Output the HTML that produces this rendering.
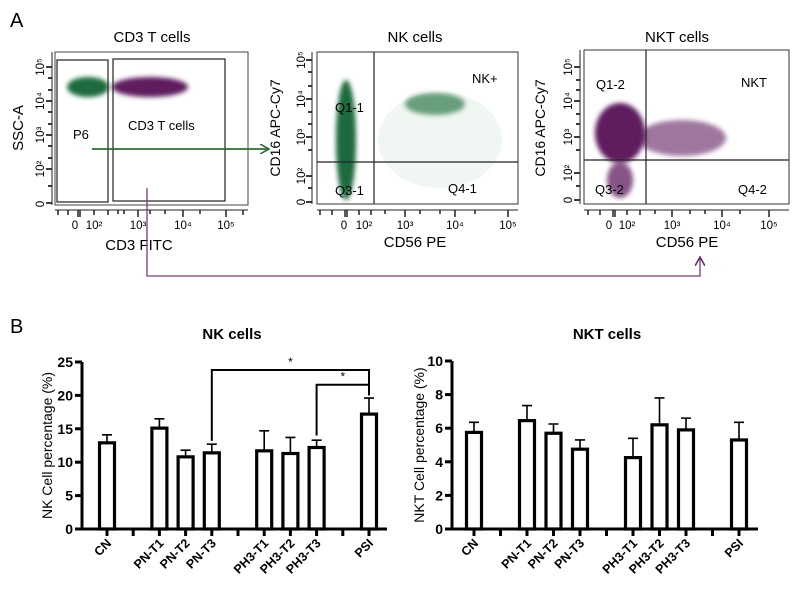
<!DOCTYPE html>
<html><head><meta charset="utf-8">
<style>
body{margin:0;background:#fff;width:799px;height:589px;overflow:hidden}
svg{display:block;font-family:"Liberation Sans",Arial,sans-serif}
</style></head>
<body>
<svg id="fig" width="799" height="589" viewBox="0 0 799 589">
<defs>
<filter id="blur" x="-20%" y="-50%" width="140%" height="200%"><feGaussianBlur stdDeviation="2.5"/></filter>
<marker id="ag" markerWidth="10" markerHeight="10" refX="8" refY="5" orient="auto" markerUnits="userSpaceOnUse"><path d="M0,0 L9,5 L0,10" fill="none" stroke="#2e6b32" stroke-width="1.6"/></marker>
<marker id="ap" markerWidth="10" markerHeight="10" refX="8" refY="5" orient="auto" markerUnits="userSpaceOnUse"><path d="M0,0 L9,5 L0,10" fill="none" stroke="#6a2b6a" stroke-width="1.6"/></marker>
</defs>
<text x="10" y="27" font-size="20">A</text>
<text x="10" y="333" font-size="20">B</text>

<!-- Plot 1 -->
<g>
<text x="152" y="42" font-size="15" text-anchor="middle">CD3 T cells</text>
<rect x="55" y="52" width="193" height="153" fill="none" stroke="#444" stroke-width="1"/>
<ellipse cx="150" cy="87" rx="38" ry="10" fill="#5e1f5e" filter="url(#blur)"/>
<ellipse cx="88" cy="87" rx="21" ry="10" fill="#1e6b3e" filter="url(#blur)"/>
<rect x="57" y="60" width="51" height="142" fill="none" stroke="#222" stroke-width="1.2"/>
<rect x="113" y="59" width="112" height="142" fill="none" stroke="#222" stroke-width="1.2"/>
<text x="73" y="139" font-size="13">P6</text>
<text x="128" y="130" font-size="13">CD3 T cells</text>
<text x="139" y="250" font-size="15" text-anchor="middle">CD3 FITC</text>
<text transform="translate(23,128) rotate(-90)" font-size="15" text-anchor="middle">SSC-A</text>
<g font-size="11.5">
<text x="75" y="229" text-anchor="middle">0</text><text x="94" y="229" text-anchor="middle">10²</text><text x="138" y="229" text-anchor="middle">10³</text><text x="183" y="229" text-anchor="middle">10⁴</text><text x="226" y="229" text-anchor="middle">10⁵</text>
</g>
<g font-size="11.5">
<text transform="translate(44,67) rotate(-90)" text-anchor="middle">10⁵</text><text transform="translate(44,101) rotate(-90)" text-anchor="middle">10⁴</text><text transform="translate(44,135) rotate(-90)" text-anchor="middle">10³</text><text transform="translate(44,169) rotate(-90)" text-anchor="middle">10²</text><text transform="translate(44,204) rotate(-90)" text-anchor="middle">0</text>
</g>
<path d="M55,210 H248 M52,52 V205" stroke="#222" stroke-width="1" fill="none"/>
<path d="M58,210v5M68,210v5M78,210v7M80,210v7M94,210v5M108,210v5M118,210v4M124,210v4M138,210v7M150,210v4M165,210v4M183,210v7M200,210v4M226,210v7M243,210v5" stroke="#222" stroke-width="1.5"/>
<path d="M46,67h6M46,101h6M46,135h6M46,169h6M46,203h6M48,78h4M48,90h4M48,112h4M48,124h4M48,146h4M48,158h4M48,186h4" stroke="#222" stroke-width="1.8"/>
</g>

<!-- Plot 2 -->
<g>
<text x="415" y="42" font-size="15" text-anchor="middle">NK cells</text>
<rect x="317" y="52" width="201" height="152" fill="none" stroke="#333" stroke-width="1"/>
<ellipse cx="346" cy="140" rx="10" ry="60" fill="#1e6b3e" filter="url(#blur)"/>
<ellipse cx="435" cy="104" rx="30" ry="11" fill="#2e7a4a" opacity="0.7" filter="url(#blur)"/>
<ellipse cx="440" cy="140" rx="62" ry="48" fill="#2e7a4a" opacity="0.07"/>
<path d="M374,52V204M317,162H518" stroke="#222" stroke-width="1.2" fill="none"/>
<text x="335" y="112" font-size="13">Q1-1</text>
<text x="335" y="195" font-size="13">Q3-1</text>
<text x="448" y="193" font-size="13">Q4-1</text>
<text x="472" y="83" font-size="13">NK+</text>
<text x="415" y="247" font-size="15" text-anchor="middle">CD56 PE</text>
<text transform="translate(280,128) rotate(-90)" font-size="14" text-anchor="middle">CD16 APC-Cy7</text>
<g font-size="11.5">
<text x="344" y="229" text-anchor="middle">0</text><text x="364" y="229" text-anchor="middle">10²</text><text x="405" y="229" text-anchor="middle">10³</text><text x="455" y="229" text-anchor="middle">10⁴</text><text x="508" y="229" text-anchor="middle">10⁵</text>
<text transform="translate(305,60) rotate(-90)" text-anchor="middle">10⁵</text><text transform="translate(305,99) rotate(-90)" text-anchor="middle">10⁴</text><text transform="translate(305,137) rotate(-90)" text-anchor="middle">10³</text><text transform="translate(305,176) rotate(-90)" text-anchor="middle">10²</text><text transform="translate(305,202) rotate(-90)" text-anchor="middle">0</text>
</g>
<path d="M317,210H518M312,52V204" stroke="#222" stroke-width="1"/>
<path d="M320,210v5M332,210v5M345,210v7M347,210v7M359,210v5M371,210v5M385,210v4M405,210v7M420,210v4M440,210v4M455,210v7M475,210v4M508,210v7" stroke="#222" stroke-width="1.5"/>
<path d="M306,60h6M306,99h6M306,137h6M306,176h6M306,202h6M308,72h4M308,86h4M308,112h4M308,124h4M308,150h4M308,188h4" stroke="#222" stroke-width="1.8"/>
</g>

<!-- Plot 3 -->
<g>
<text x="677" y="42" font-size="15" text-anchor="middle">NKT cells</text>
<rect x="584" y="50" width="205" height="154" fill="none" stroke="#333" stroke-width="1"/>
<ellipse cx="682" cy="138" rx="44" ry="18" fill="#5e1f5e" opacity="0.6" filter="url(#blur)"/>
<ellipse cx="620" cy="133" rx="25" ry="30" fill="#5e1f5e" filter="url(#blur)"/>
<ellipse cx="620" cy="180" rx="13" ry="18" fill="#5e1f5e" opacity="0.75" filter="url(#blur)"/>
<path d="M646,50V204M584,160H789" stroke="#222" stroke-width="1.2" fill="none"/>
<text x="596" y="89" font-size="13">Q1-2</text>
<text x="741" y="87" font-size="13">NKT</text>
<text x="595" y="194" font-size="13">Q3-2</text>
<text x="738" y="194" font-size="13">Q4-2</text>
<text x="687" y="247" font-size="15" text-anchor="middle">CD56 PE</text>
<text transform="translate(545,128) rotate(-90)" font-size="14" text-anchor="middle">CD16 APC-Cy7</text>
<g font-size="11.5">
<text x="609" y="229" text-anchor="middle">0</text><text x="627" y="229" text-anchor="middle">10²</text><text x="672" y="229" text-anchor="middle">10³</text><text x="722" y="229" text-anchor="middle">10⁴</text><text x="769" y="229" text-anchor="middle">10⁵</text>
<text transform="translate(572,67) rotate(-90)" text-anchor="middle">10⁵</text><text transform="translate(572,101) rotate(-90)" text-anchor="middle">10⁴</text><text transform="translate(572,137) rotate(-90)" text-anchor="middle">10³</text><text transform="translate(572,173) rotate(-90)" text-anchor="middle">10²</text><text transform="translate(572,200) rotate(-90)" text-anchor="middle">0</text>
</g>
<path d="M584,210H789M580,50V204" stroke="#222" stroke-width="1"/>
<path d="M588,210v5M600,210v5M613,210v7M615,210v7M627,210v5M640,210v5M655,210v4M672,210v7M690,210v4M705,210v4M722,210v7M740,210v4M769,210v7" stroke="#222" stroke-width="1.5"/>
<path d="M574,67h6M574,101h6M574,137h6M574,173h6M574,200h6M576,80h4M576,90h4M576,114h4M576,124h4M576,150h4M576,186h4" stroke="#222" stroke-width="1.8"/>
</g>

<!-- arrows -->
<path d="M92,149 H268" stroke="#2e6b32" stroke-width="1.8" fill="none" marker-end="url(#ag)"/>
<path d="M147,188 V276 H700 V258" stroke="#7a3c7a" stroke-width="1.3" fill="none" marker-end="url(#ap)"/>

<g id="chart1"></g>
<g id="chart2"></g>
</svg>
<script>
const categories = ["CN","","PN-T1","PN-T2","PN-T3","","PH3-T1","PH3-T2","PH3-T3","","PSI"];
const nkValues = [12.9,null,15.1,10.8,11.4,null,11.7,11.3,12.2,null,17.2];
const nkErrors = [1.2,null,1.4,1.0,1.3,null,3.0,2.4,1.1,null,2.4];
const nktValues = [5.75,null,6.45,5.7,4.75,null,4.25,6.2,5.9,null,5.3];
const nktErrors = [0.6,null,0.9,0.55,0.55,null,1.15,1.6,0.7,null,1.05];
const nkTicks = [0,5,10,15,20,25];
const nktTicks = [0,2,4,6,8,10];

const NS="http://www.w3.org/2000/svg";
function mk(tag,attrs,parent){const e=document.createElementNS(NS,tag);for(const k in attrs)e.setAttribute(k,attrs[k]);parent.appendChild(e);return e;}

function drawChart(g,cfg){
  const y=v=>cfg.y0-(v-cfg.min)/(cfg.max-cfg.min)*(cfg.y0-cfg.y1);
  const x=i=>cfg.x0+i*cfg.step;
  const t=mk('text',{x:cfg.titleX,y:cfg.titleY,'font-size':15,'font-weight':'bold','text-anchor':'middle'},g);
  
  
  t.textContent=cfg.title;
  const yl=mk('text',{transform:`translate(${cfg.ylabX},${(cfg.y0+cfg.y1)/2}) rotate(-90)`,'font-size':14,'text-anchor':'middle'},g);
  
  
  yl.textContent=cfg.ylab;
  const ax=mk('path',{d:`M${cfg.ax},${cfg.y1} V${cfg.y0} H${cfg.axEnd}`,stroke:'#000','stroke-width':3,fill:'none'},g);
  
  
  cfg.ticks.forEach(v=>{
    mk('path',{d:`M${cfg.ax-7},${y(v)} H${cfg.ax}`,stroke:'#000','stroke-width':3},g);
    const tl=mk('text',{x:cfg.ax-9,y:y(v)+5,'font-size':14,'font-weight':'bold','text-anchor':'end'},g);
    
    
    tl.textContent=v;
  });
  categories.forEach((c,i)=>{
    const cx=x(i);
    mk('path',{d:`M${cx},${cfg.y0} v7`,stroke:'#000','stroke-width':3},g);
    const v=cfg.values[i];
    if(v==null)return;
    const bw=15;
    const eb=mk('path',{d:`M${cx},${y(v)} V${y(v+cfg.errors[i])} M${cx-5},${y(v+cfg.errors[i])} H${cx+5}`,stroke:'#000','stroke-width':1.6,fill:'none'},g);
    
    
    const r=mk('rect',{x:cx-bw/2,y:y(v),width:bw,height:cfg.y0-y(v),fill:'#fff',stroke:'#000','stroke-width':3.2},g);
    
    
    const lb=mk('text',{transform:`translate(${cx+5},${cfg.y0+15}) rotate(-45)`,'font-size':12.5,'font-weight':'bold','text-anchor':'end'},g);
    
    
    lb.textContent=c;
  });
  return {x,y};
}
const c1=drawChart(document.getElementById('chart1'),{title:'NK cells',titleX:232,titleY:339,ylab:'NK Cell percentage (%)',ylabX:52,
  ax:82,axEnd:387,x0:107,step:26.2,y0:529,y1:362,min:0,max:25,ticks:nkTicks,values:nkValues,errors:nkErrors});
drawChart(document.getElementById('chart2'),{title:'NKT cells',titleX:607,titleY:339,ylab:'NKT Cell percentage (%)',ylabX:424,
  ax:452,axEnd:758,x0:474,step:26.5,y0:529,y1:361,min:0,max:10,ticks:nktTicks,values:nktValues,errors:nktErrors});
const g1=document.getElementById('chart1');
const bY1=c1.y(23.8), bY2=c1.y(21.6);
const b1=mk('path',{d:`M${c1.x(4)},${c1.y(13.2)} V${bY1} H${c1.x(10)} V${c1.y(20)}`,stroke:'#000','stroke-width':2,fill:'none'},g1);


const b2=mk('path',{d:`M${c1.x(8)},${c1.y(14)} V${bY2} H${c1.x(10)} V${c1.y(20)}`,stroke:'#000','stroke-width':2,fill:'none'},g1);


const s1=mk('text',{x:(c1.x(4)+c1.x(10))/2,y:bY1-4,'font-size':12,'text-anchor':'middle'},g1);


s1.textContent='*';
const s2=mk('text',{x:(c1.x(8)+c1.x(10))/2,y:bY2-4,'font-size':12,'text-anchor':'middle'},g1);


s2.textContent='*';
</script>
</body></html>
